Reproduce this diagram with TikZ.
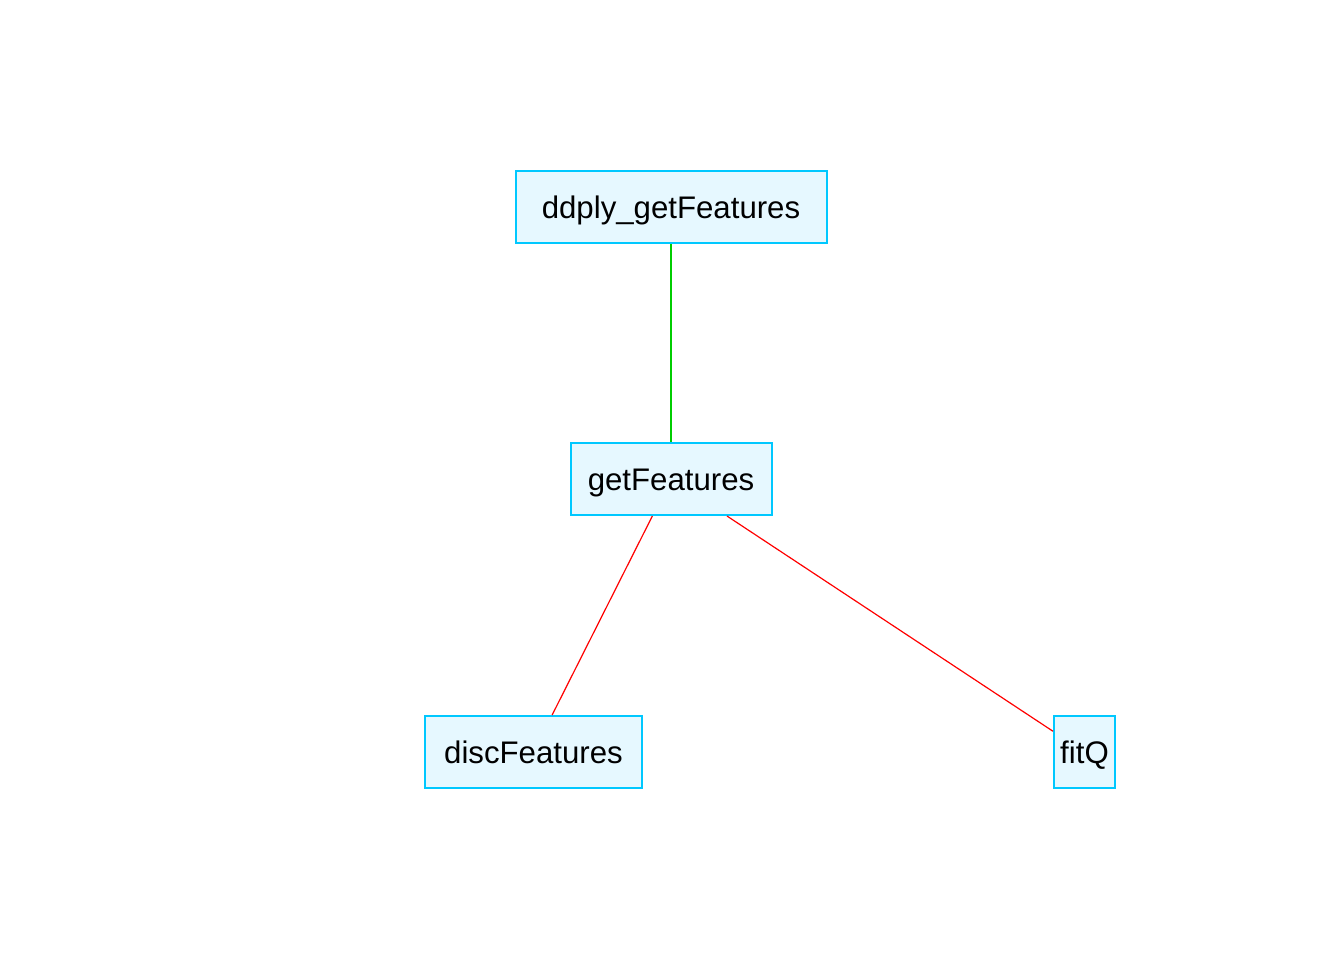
\documentclass[tikz,border=0pt]{standalone}
\usepackage{fontspec}
\setmainfont{Liberation Sans}
\usetikzlibrary{positioning}
\definecolor{boxline}{RGB}{0,200,255}
\definecolor{boxfill}{RGB}{230,248,255}
\definecolor{callgreen}{RGB}{0,205,0}
\tikzset{fn/.style={draw=boxline,fill=boxfill,line width=1pt,inner sep=0pt,minimum height=36pt,text height=12.5pt,text depth=1.5pt,font=\fontsize{15.6}{18}\selectfont}}

\begin{document}
\begin{tikzpicture}[x=0.5pt,y=-0.5pt]
\useasboundingbox (0,0) rectangle (1344,960);
\node[fn,minimum width=155.5pt] (ddply) at (671,207) {ddply\_getFeatures};
\node[fn,minimum width=100.5pt] (getf) at (671,479) {getFeatures};
\node[fn,minimum width=108.5pt] (disc) at (533.5,752) {discFeatures};
\node[fn,minimum width=30.5pt] (fitq) at (1084.5,752) {fitQ};
\draw[callgreen,line width=0.8pt] (ddply)--(getf);
\draw[red,line width=0.6pt] (getf)--(disc);
\draw[red,line width=0.6pt] (getf)--(fitq);
\end{tikzpicture}
\end{document}
